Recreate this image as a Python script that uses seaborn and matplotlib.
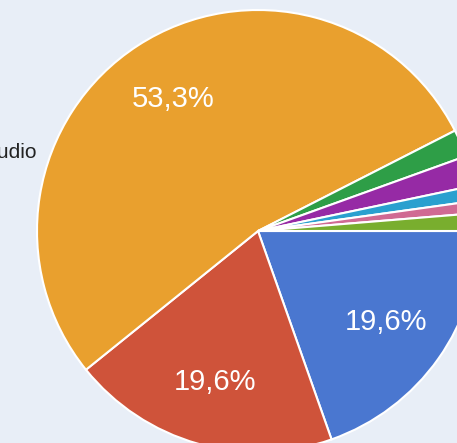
import matplotlib
matplotlib.use('Agg')
import matplotlib.pyplot as plt
import seaborn as sns

# ─── Data ────────────────────────────────────────────────────────────────────
categories = ['Blue', 'Red', 'Studio', 'Green', 'Purple', 'Cyan', 'Pink', 'Lime']
shares = [19.6, 19.6, 53.3, 2.0, 2.2, 1.1, 0.9, 1.3]
colors = ['#4a77d0', '#cf533a', '#e9a02e', '#2e9e47',
          '#962aa5', '#2aa0cf', '#d06a93', '#79ae2e']

sns.set_style('white')
plt.rcParams['font.family'] = ['Liberation Sans', 'DejaVu Sans']

BG = '#e8eef7'


def fmt_pct(pct):
    # only the big slices get a label, with decimal comma
    if pct < 5:
        return ''
    return f'{pct:.1f}'.replace('.', ',') + '%'


fig = plt.figure(figsize=(4.57, 4.43), dpi=100, facecolor=BG)
# pie centre ~ (258, 231) px, radius ~221 px -> axes partly outside the canvas
ax = fig.add_axes([37 / 457, -9 / 443, 442 / 457, 442 / 443])
ax.set_facecolor(BG)

wedges, texts, autotexts = ax.pie(
    shares,
    colors=colors,
    startangle=0,
    counterclock=False,
    autopct=fmt_pct,
    pctdistance=0.71,
    wedgeprops={'edgecolor': 'white', 'linewidth': 1.5},
    textprops={'color': 'white', 'fontsize': 21},
)
ax.set_xlim(-1, 1)
ax.set_ylim(-1, 1)
ax.set_aspect('equal')
ax.axis('off')

# outside label of the big slice, mostly cut off by the left edge
fig.text(37 / 457, 1 - 158 / 443, categories[2], ha='right', va='baseline',
         fontsize=15, color='#222222')

plt.savefig('out.png', dpi=100, facecolor=BG)
plt.close()
